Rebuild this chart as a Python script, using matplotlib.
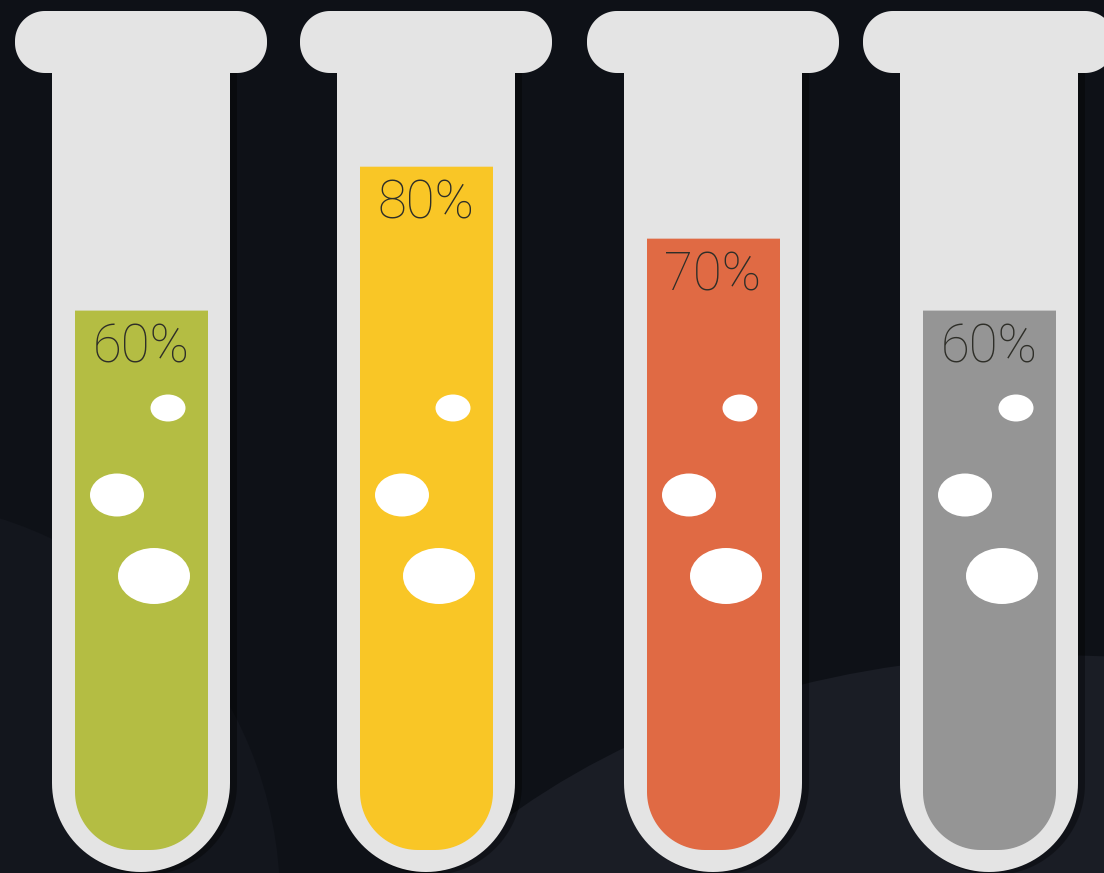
import numpy as np
import matplotlib.pyplot as plt
from matplotlib.patches import Polygon, Ellipse

# data
values = [60, 80, 70, 60]
labels = ['60%', '80%', '70%', '60%']
fill_colors = ['#b4bd43', '#f9c626', '#e06a44', '#959595']

# layout (pixels, y down) and vertical scale for the percent axis
W, H = 1104, 873
K = 7.195          # px per percent
Y0 = 742.3         # pixel row of 0 %
tube_x = [141, 426, 713, 989]
tube_col = '#e4e4e4'
bg = '#0e1117'


def py(v):
    return (Y0 - np.asarray(v, float)) / K


def rounded_rect(x0, y0, x1, y1, rt, rb, n=30):
    pts = []
    for cx, cy, r, a0, a1 in [(x0 + rt, y0 + rt, rt, 180, 270),
                              (x1 - rt, y0 + rt, rt, 270, 360),
                              (x1 - rb, y1 - rb, rb, 0, 90),
                              (x0 + rb, y1 - rb, rb, 90, 180)]:
        t = np.radians(np.linspace(a0, a1, n))
        pts.append(np.column_stack([cx + r * np.cos(t), cy + r * np.sin(t)]))
    pts = np.vstack(pts)
    pts[:, 1] = py(pts[:, 1])
    return pts


fig = plt.figure(figsize=(W / 100, H / 100), dpi=100, facecolor=bg)
ax = fig.add_axes([0, 0, 1, 1])
ax.set_xlim(0, W)
ax.set_ylim(py(H), py(0))
ax.set_facecolor(bg)
ax.axis('off')

# faint lighter shapes in the background
ax.add_patch(Ellipse((1050, py(1180)), 1500, 1050 / K, color='#1a1d25', lw=0, zorder=0))
ax.add_patch(Ellipse((-120, py(900)), 800, 800 / K, color='#13161d', lw=0, zorder=0))

for c, v, lab, col in zip(tube_x, values, labels, fill_colors):
    # soft shadow
    ax.add_patch(Polygon(rounded_rect(c - 86, 18, c + 96, 875, 0, 91), closed=True,
                         color='black', alpha=0.35, lw=0, zorder=1))
    # glass
    ax.add_patch(Polygon(rounded_rect(c - 126, 11, c + 126, 73, 30, 30), closed=True,
                         color=tube_col, lw=0, zorder=2))
    ax.add_patch(Polygon(rounded_rect(c - 89, 60, c + 89, 872, 0, 89), closed=True,
                         color=tube_col, lw=0, zorder=2))
    # liquid: top edge at the value, bottom rounded
    liq = rounded_rect(c - 66, 300, c + 67, 850, 0, 58)
    liq[np.isclose(liq[:, 1], py(300)), 1] = v
    ax.add_patch(Polygon(liq, closed=True, color=col, lw=0, zorder=3))
    # bubbles
    x0 = c - 66
    for dx, cy, w, h in [(93, 408, 35, 27), (42, 495, 54, 43), (79, 576, 72, 56)]:
        ax.add_patch(Ellipse((x0 + dx, py(cy)), w, h / K, color='white', lw=0, zorder=4))
    ax.annotate(lab, (c, v), xytext=(0, -8), textcoords='offset points',
                ha='center', va='top', fontsize=38, fontfamily='Roboto',
                fontweight='light', color='#2e2e28', zorder=5)

fig.savefig('out.png', dpi=100, facecolor=bg)
